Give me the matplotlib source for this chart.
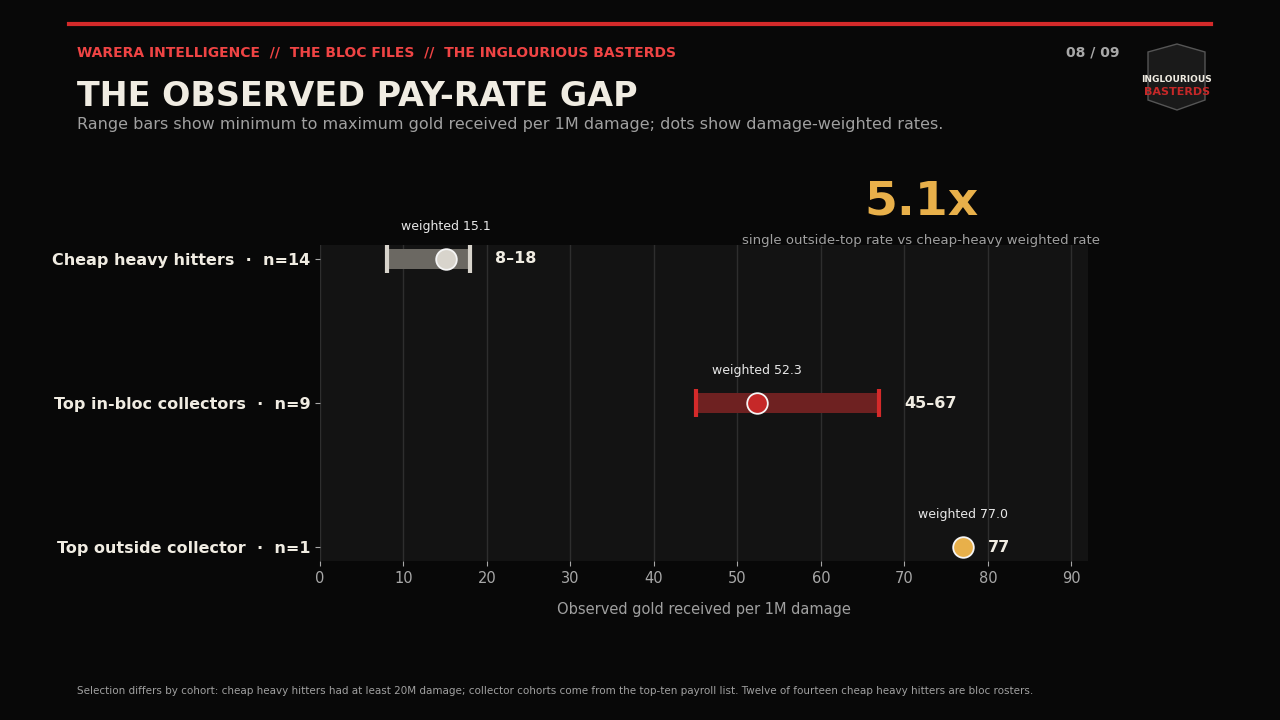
import matplotlib.pyplot as plt
from matplotlib.patches import Polygon

categories = ["Cheap heavy hitters  ·  n=14", "Top in-bloc collectors  ·  n=9", "Top outside collector  ·  n=1"]
mins = [8, 45, 77]
maxs = [18, 67, 77]
weighted = [15.1, 52.3, 77.0]
range_labels = ["8–18", "45–67", "77"]
bar_colors = ["#6b6862", "#6e2121", "#e8b04a"]
cap_colors = ["#d8d4cc", "#d42a2a", "#e8b04a"]
dot_colors = ["#d8d4cc", "#c62828", "#e8b04a"]

BG = "#080808"
fig = plt.figure(figsize=(12.8, 7.2), dpi=100, facecolor=BG)

fig.add_artist(plt.Line2D([69/1280, 1211/1280], [1-24/720]*2, color="#d42a2a", lw=3))
fig.text(77/1280, 1-52/720, "WARERA INTELLIGENCE  //  THE BLOC FILES  //  THE INGLOURIOUS BASTERDS",
         color="#ef4444", fontsize=10, fontweight="bold", va="center")
fig.text(1120/1280, 1-52/720, "08 / 09", color="#a8a8a8", fontsize=10, fontweight="bold", va="center", ha="right")
fig.text(77/1280, 1-97/720, "THE OBSERVED PAY-RATE GAP", color="#f0ece2", fontsize=24, fontweight="bold", va="center")
fig.text(77/1280, 1-125/720, "Range bars show minimum to maximum gold received per 1M damage; dots show damage-weighted rates.",
         color="#a0a0a0", fontsize=11.5, va="center")
fig.text(921/1280, 1-202/720, "5.1x", color="#e8b04a", fontsize=34, fontweight="bold", va="center", ha="center")
fig.text(921/1280, 1-241/720, "single outside-top rate vs cheap-heavy weighted rate", color="#a0a0a0",
         fontsize=9.5, va="center", ha="center")
fig.text(77/1280, 1-691/720, "Selection differs by cohort: cheap heavy hitters had at least 20M damage; collector cohorts come from the top-ten payroll list. Twelve of fourteen cheap heavy hitters are bloc rosters.",
         color="#a0a0a0", fontsize=7.5, va="center")

# logo
lx = [1148, 1205, 1205, 1177, 1148]
ly = [55, 55, 100, 110, 100]
fig.add_artist(Polygon([(x/1280, 1-y/720) for x, y in zip([1148, 1177, 1205, 1205, 1177, 1148], [52, 44, 52, 100, 110, 100])],
                       closed=True, facecolor="#1a1a1a", edgecolor="#555555", lw=1, transform=fig.transFigure))
fig.text(1177/1280, 1-79/720, "INGLOURIOUS", color="#f0ece2", fontsize=6.5, fontweight="bold", ha="center", va="center")
fig.text(1177/1280, 1-92/720, "BASTERDS", color="#c62828", fontsize=8, fontweight="bold", ha="center", va="center")

ax = fig.add_axes([320/1280, 1-561/720, 768/1280, 316/720])
ax.set_facecolor("#131313")
ys = list(range(len(categories)))
for i in ys:
    if maxs[i] > mins[i]:
        ax.barh(i, maxs[i]-mins[i], left=mins[i], height=0.14, color=bar_colors[i], zorder=2)
        ax.vlines([mins[i], maxs[i]], i-0.1, i+0.1, color=cap_colors[i], lw=3, zorder=3)
    ax.scatter(weighted[i], i, s=220, color=dot_colors[i], edgecolor="#f5f5f5", lw=1.3, zorder=4)
    ax.text(weighted[i], i-0.18, f"weighted {weighted[i]:.1f}", color="#e8e8e8", fontsize=9, ha="center", va="bottom")
    ax.text(maxs[i]+3, i, range_labels[i], color="#f0ece2", fontsize=11.5, fontweight="bold", va="center")

ax.set_xlim(0, 92)
ax.set_ylim(2.097, -0.097)
ax.set_xticks(range(0, 91, 10))
ax.set_yticks(ys)
ax.set_yticklabels(categories, color="#f0ece2", fontsize=11.5, fontweight="bold")
ax.tick_params(axis="x", colors="#a8a8a8", labelsize=10.5)
ax.tick_params(axis="y", colors="#a8a8a8")
for lab in ax.get_yticklabels():
    lab.set_color("#f0ece2")
ax.grid(axis="x", color="#2e2e2e", lw=1, zorder=0)
ax.set_axisbelow(True)
for s in ax.spines.values():
    s.set_visible(False)
ax.set_xlabel("Observed gold received per 1M damage", color="#a0a0a0", fontsize=10.5, labelpad=12)

fig.savefig("out.png", dpi=100, facecolor=BG)
